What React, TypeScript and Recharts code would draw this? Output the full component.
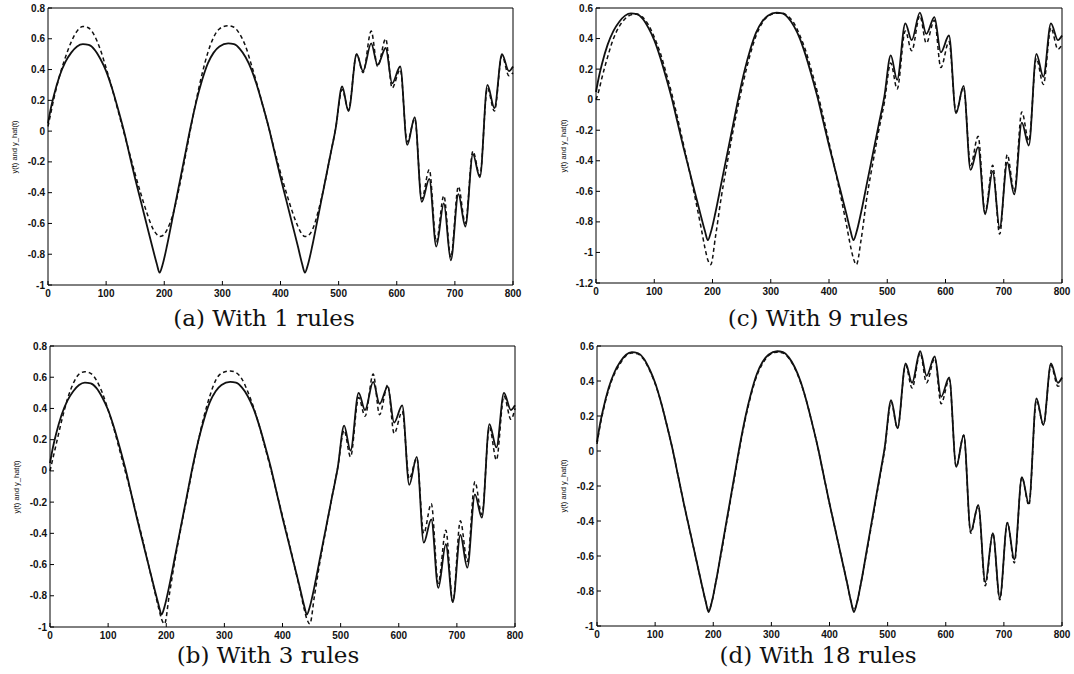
import { Line, LineChart, XAxis, YAxis } from "recharts";

// sample times (t) shared by every series
const T = [
  0, 5, 10, 20, 30, 40, 50, 60, 70, 80, 90, 100, 110, 120, 130, 140, 150, 160,
  170, 180, 187, 192, 197, 205, 215, 225, 235, 245, 255, 265, 275, 285, 295,
  310, 320, 330, 340, 350, 360, 370, 380, 390, 400, 410, 420, 430, 437, 442,
  447, 455, 465, 475, 485, 495, 506, 517, 531, 542, 556, 567, 581, 592, 606,
  618, 631, 643, 656, 668, 681, 693, 706, 718, 731, 743, 756, 768, 781, 793,
  800,
];

// plant output y(t), solid line
const Y_TRUE = [
  0.05, 0.15, 0.23, 0.36, 0.45, 0.51, 0.55, 0.565, 0.56, 0.53, 0.47, 0.39,
  0.28, 0.15, 0.01, -0.15, -0.31, -0.46, -0.61, -0.76, -0.86, -0.92, -0.87,
  -0.74, -0.55, -0.36, -0.17, 0.02, 0.19, 0.33, 0.44, 0.51, 0.55, 0.57, 0.565,
  0.535, 0.48, 0.4, 0.29, 0.16, 0.02, -0.14, -0.3, -0.45, -0.6, -0.75, -0.86,
  -0.92, -0.87, -0.74, -0.55, -0.36, -0.17, 0.02, 0.29, 0.13, 0.5, 0.39, 0.57,
  0.43, 0.54, 0.31, 0.42, -0.09, 0.09, -0.46, -0.31, -0.75, -0.47, -0.84,
  -0.41, -0.62, -0.15, -0.3, 0.3, 0.15, 0.5, 0.39, 0.42,
];

// model output y_hat(t), dashed line, one list per rule count
const Y_HAT_1 = [
  0.03, 0.12, 0.21, 0.36, 0.48, 0.58, 0.65, 0.68, 0.67, 0.62, 0.53, 0.41,
  0.28, 0.14, 0.0, -0.14, -0.28, -0.41, -0.53, -0.63, -0.67, -0.685, -0.68,
  -0.64, -0.54, -0.38, -0.19, 0.01, 0.2, 0.37, 0.51, 0.61, 0.665, 0.685, 0.675,
  0.63, 0.55, 0.43, 0.3, 0.16, 0.02, -0.13, -0.27, -0.4, -0.52, -0.62, -0.67,
  -0.685, -0.68, -0.64, -0.52, -0.36, -0.17, 0.02, 0.27, 0.14, 0.5, 0.38, 0.65,
  0.42, 0.6, 0.28, 0.4, -0.07, 0.08, -0.44, -0.25, -0.72, -0.42, -0.82, -0.36,
  -0.6, -0.13, -0.29, 0.28, 0.13, 0.49, 0.36, 0.38,
];

const Y_HAT_3 = [
  0.0, 0.08, 0.16, 0.32, 0.46, 0.56, 0.62, 0.635, 0.625, 0.58, 0.5, 0.39,
  0.27, 0.13, -0.01, -0.15, -0.3, -0.45, -0.61, -0.77, -0.88, -0.95, -0.98,
  -0.8, -0.57, -0.37, -0.18, 0.01, 0.19, 0.35, 0.48, 0.58, 0.625, 0.64, 0.63,
  0.59, 0.51, 0.41, 0.29, 0.15, 0.01, -0.14, -0.29, -0.44, -0.6, -0.76, -0.88,
  -0.95, -0.98, -0.8, -0.57, -0.37, -0.17, 0.02, 0.26, 0.09, 0.47, 0.35, 0.62,
  0.36, 0.55, 0.24, 0.38, -0.05, 0.08, -0.4, -0.21, -0.72, -0.38, -0.84, -0.32,
  -0.58, -0.07, -0.28, 0.28, 0.07, 0.48, 0.33, 0.4,
];

const Y_HAT_9 = [
  0.0, 0.06, 0.14, 0.28, 0.4, 0.48, 0.53, 0.555, 0.56, 0.54, 0.49, 0.41, 0.31,
  0.18, 0.04, -0.12, -0.29, -0.46, -0.64, -0.83, -0.97, -1.05, -1.08, -0.9,
  -0.64, -0.42, -0.21, -0.02, 0.15, 0.3, 0.42, 0.5, 0.545, 0.565, 0.565, 0.545,
  0.5, 0.42, 0.32, 0.19, 0.05, -0.11, -0.28, -0.45, -0.63, -0.82, -0.96, -1.04,
  -1.08, -0.92, -0.64, -0.42, -0.21, -0.02, 0.24, 0.07, 0.45, 0.32, 0.55, 0.37,
  0.52, 0.21, 0.38, -0.08, 0.08, -0.43, -0.24, -0.74, -0.43, -0.88, -0.36,
  -0.6, -0.08, -0.27, 0.27, 0.1, 0.47, 0.33, 0.36,
];

const Y_HAT_18 = [
  0.04, 0.14, 0.22, 0.35, 0.44, 0.5, 0.545, 0.56, 0.555, 0.525, 0.465, 0.385,
  0.28, 0.15, 0.01, -0.15, -0.31, -0.46, -0.61, -0.76, -0.86, -0.91, -0.87,
  -0.74, -0.56, -0.37, -0.18, 0.01, 0.18, 0.32, 0.43, 0.5, 0.545, 0.565, 0.56,
  0.53, 0.475, 0.395, 0.29, 0.16, 0.02, -0.14, -0.3, -0.45, -0.6, -0.75, -0.86,
  -0.91, -0.87, -0.74, -0.56, -0.37, -0.18, 0.01, 0.28, 0.13, 0.49, 0.36, 0.56,
  0.39, 0.53, 0.27, 0.41, -0.09, 0.09, -0.47, -0.31, -0.77, -0.47, -0.85,
  -0.41, -0.64, -0.15, -0.31, 0.29, 0.15, 0.49, 0.37, 0.38,
];

const X_TICKS = [0, 100, 200, 300, 400, 500, 600, 700, 800];
const Y_TICKS_08 = [-1, -0.8, -0.6, -0.4, -0.2, 0, 0.2, 0.4, 0.6, 0.8];
const Y_TICKS_06 = [-1, -0.8, -0.6, -0.4, -0.2, 0, 0.2, 0.4, 0.6];
const Y_TICKS_C = [-1.2, -1, -0.8, -0.6, -0.4, -0.2, 0, 0.2, 0.4, 0.6];

const Y_LABEL = "y(t) and y_hat(t)";

type Panel = {
  title: string;
  hat: number[];
  yDomain: [number, number];
  yTicks: number[];
  left: number;
  top: number;
  width: number;
  height: number;
  margin: { top: number; right: number; bottom: number; left: number };
  titleX: number;
  titleY: number;
  labelX: number;
};

const PANELS: Panel[] = [
  {
    title: "(a) With 1 rules",
    hat: Y_HAT_1,
    yDomain: [-1, 0.8],
    yTicks: Y_TICKS_08,
    left: 0,
    top: 0,
    width: 530,
    height: 310,
    margin: { top: 7, right: 16, bottom: 1, left: 8 },
    titleX: 264,
    titleY: 318,
    labelX: 14,
  },
  {
    title: "(c) With 9 rules",
    hat: Y_HAT_9,
    yDomain: [-1.2, 0.6],
    yTicks: Y_TICKS_C,
    left: 545,
    top: 0,
    width: 529,
    height: 310,
    margin: { top: 7, right: 11, bottom: 3, left: 11 },
    titleX: 818,
    titleY: 318,
    labelX: 563,
  },
  {
    title: "(b) With 3 rules",
    hat: Y_HAT_3,
    yDomain: [-1, 0.8],
    yTicks: Y_TICKS_08,
    left: 0,
    top: 335,
    width: 530,
    height: 320,
    margin: { top: 10, right: 14, bottom: 4, left: 10 },
    titleX: 268,
    titleY: 655,
    labelX: 16,
  },
  {
    title: "(d) With 18 rules",
    hat: Y_HAT_18,
    yDomain: [-1, 0.6],
    yTicks: Y_TICKS_06,
    left: 545,
    top: 335,
    width: 529,
    height: 320,
    margin: { top: 10, right: 11, bottom: 5, left: 12 },
    titleX: 818,
    titleY: 655,
    labelX: 563,
  },
];

const tickStyle = {
  fill: "#111",
  fontSize: 10,
  fontWeight: 700,
  fontFamily: "'Liberation Sans', Arial, sans-serif",
};

function PanelChart({ panel }: { panel: Panel }) {
  const data = T.map((t, i) => ({ t, y: Y_TRUE[i], yHat: panel.hat[i] }));
  const plotTop = panel.top + panel.margin.top + 1;
  const plotBottom = panel.top + panel.height - panel.margin.bottom - 24;

  return (
    <>
      <div
        style={{
          position: "absolute",
          left: panel.left,
          top: panel.top,
          width: panel.width,
          height: panel.height,
        }}
      >
        <LineChart
          width={panel.width}
          height={panel.height}
          data={data}
          margin={panel.margin}
        >
          <XAxis
            xAxisId="bottom"
            dataKey="t"
            type="number"
            domain={[0, 800]}
            ticks={X_TICKS}
            interval={0}
            height={24}
            stroke="#000"
            tickSize={-4}
            tickMargin={9}
            tick={tickStyle}
          />
          <XAxis
            xAxisId="top"
            orientation="top"
            dataKey="t"
            type="number"
            domain={[0, 800]}
            ticks={X_TICKS}
            interval={0}
            height={1}
            stroke="#000"
            tickSize={-4}
            tick={false}
          />
          <YAxis
            yAxisId="left"
            type="number"
            domain={panel.yDomain}
            ticks={panel.yTicks}
            interval={0}
            width={40}
            stroke="#000"
            tickSize={-4}
            tickMargin={7}
            tick={tickStyle}
          />
          <YAxis
            yAxisId="right"
            orientation="right"
            type="number"
            domain={panel.yDomain}
            ticks={panel.yTicks}
            interval={0}
            width={1}
            stroke="#000"
            tickSize={-4}
            tick={false}
          />
          <Line
            xAxisId="bottom"
            yAxisId="left"
            type="monotone"
            dataKey="yHat"
            stroke="#111"
            strokeWidth={1.5}
            strokeDasharray="4 3"
            dot={false}
            isAnimationActive={false}
          />
          <Line
            xAxisId="bottom"
            yAxisId="left"
            type="monotone"
            dataKey="y"
            stroke="#111"
            strokeWidth={1.8}
            dot={false}
            isAnimationActive={false}
          />
        </LineChart>
      </div>
      {/* rotated y-axis label */}
      <div
        style={{
          position: "absolute",
          left: panel.labelX,
          top: (plotTop + plotBottom) / 2,
          transform: "translate(-50%, -50%) rotate(-90deg)",
          whiteSpace: "nowrap",
          fontFamily: "'Liberation Sans', Arial, sans-serif",
          fontSize: 7.5,
          color: "#111",
        }}
      >
        {Y_LABEL}
      </div>
      <div
        style={{
          position: "absolute",
          left: panel.titleX,
          top: panel.titleY,
          transform: "translate(-50%, -50%)",
          whiteSpace: "nowrap",
          fontFamily: "'DejaVu Serif', serif",
          fontSize: 23,
          color: "#111",
        }}
      >
        {panel.title}
      </div>
    </>
  );
}

export default function App() {
  return (
    <div
      style={{
        position: "absolute",
        left: 0,
        top: 0,
        width: 1074,
        height: 674,
        background: "#fff",
        overflow: "hidden",
      }}
    >
      {PANELS.map((p) => (
        <PanelChart key={p.title} panel={p} />
      ))}
    </div>
  );
}
